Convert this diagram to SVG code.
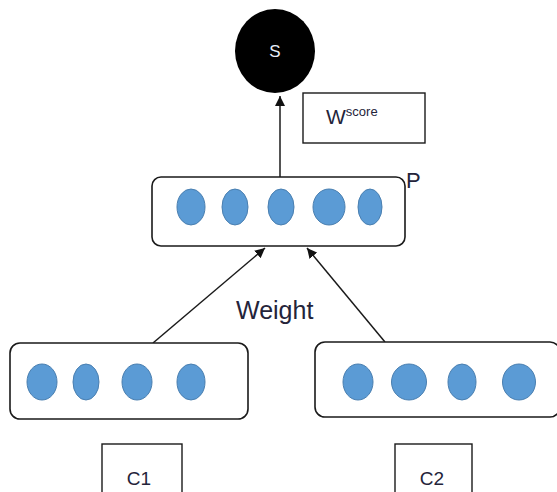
<svg xmlns="http://www.w3.org/2000/svg" width="557" height="492" viewBox="0 0 557 492">
  <defs>
    <marker id="arrow" viewBox="0 0 10 10" refX="10" refY="5" markerWidth="10" markerHeight="10" markerUnits="userSpaceOnUse" orient="auto">
      <path d="M0,0 L10,5 L0,10 Z" fill="#111"/>
    </marker>
  </defs>
  <style>
    .frame { fill: #fff; stroke: #1a1a1a; stroke-width: 1.6; }
    .box { fill: #fff; stroke: #1a1a1a; stroke-width: 1.4; }
    .unit { fill: #5b9bd5; stroke: #4a7fb0; stroke-width: 1; }
    .edge { stroke: #1a1a1a; stroke-width: 1.5; fill: none; marker-end: url(#arrow); }
    .lbl { font-family: "Liberation Sans", Arial, sans-serif; fill: #24243a; }
  </style>
  <rect width="557" height="492" fill="#fff"/>

  <!-- connectors -->
  <g id="connectors">
    <line class="edge" x1="280" y1="177" x2="280" y2="96"/>
    <line class="edge" x1="153" y1="343" x2="265" y2="248"/>
    <line class="edge" x1="385" y1="342" x2="307" y2="248"/>
  </g>

  <!-- score node -->
  <g id="node-s">
    <ellipse cx="275" cy="51" rx="40" ry="42" fill="#000"/>
    <text class="lbl" x="275" y="57" font-size="17" text-anchor="middle" style="fill:#e8eef8">S</text>
  </g>

  <!-- score weight label -->
  <g id="node-wscore">
    <rect class="box" x="303" y="93" width="122" height="50"/>
    <text class="lbl" x="326" y="124" font-size="21">W<tspan font-size="13" dy="-8">score</tspan></text>
  </g>

  <!-- pooled layer P -->
  <g id="node-p">
    <rect class="frame" x="152" y="177" width="253" height="69" rx="9"/>
    <ellipse class="unit" cx="191" cy="207" rx="14" ry="18"/>
    <ellipse class="unit" cx="235" cy="207" rx="13" ry="18"/>
    <ellipse class="unit" cx="281" cy="207" rx="13" ry="18"/>
    <ellipse class="unit" cx="329" cy="207" rx="16" ry="18"/>
    <ellipse class="unit" cx="370" cy="207" rx="12" ry="18"/>
    <text class="lbl" x="406" y="188" font-size="22">P</text>
  </g>

  <!-- edge label -->
  <text class="lbl" x="236" y="319" font-size="25">Weight</text>

  <!-- input layer C1 -->
  <g id="node-c1-layer">
    <rect class="frame" x="10" y="343" width="238" height="76" rx="10"/>
    <ellipse class="unit" cx="42" cy="382" rx="15" ry="18"/>
    <ellipse class="unit" cx="86" cy="382" rx="13" ry="18"/>
    <ellipse class="unit" cx="137" cy="382" rx="15" ry="18"/>
    <ellipse class="unit" cx="191" cy="382" rx="14" ry="18"/>
  </g>

  <!-- input layer C2 -->
  <g id="node-c2-layer">
    <rect class="frame" x="315" y="342" width="245" height="75" rx="10"/>
    <ellipse class="unit" cx="358" cy="382" rx="15" ry="18"/>
    <ellipse class="unit" cx="409" cy="382" rx="17.5" ry="18"/>
    <ellipse class="unit" cx="462" cy="382" rx="14" ry="18"/>
    <ellipse class="unit" cx="519" cy="382" rx="16.5" ry="18"/>
  </g>

  <!-- input labels -->
  <g id="node-c1">
    <rect class="box" x="102" y="444" width="80" height="60"/>
    <text class="lbl" x="139" y="485" font-size="19" text-anchor="middle">C1</text>
  </g>
  <g id="node-c2">
    <rect class="box" x="395" y="444" width="77" height="60"/>
    <text class="lbl" x="432" y="485" font-size="19" text-anchor="middle">C2</text>
  </g>
</svg>
